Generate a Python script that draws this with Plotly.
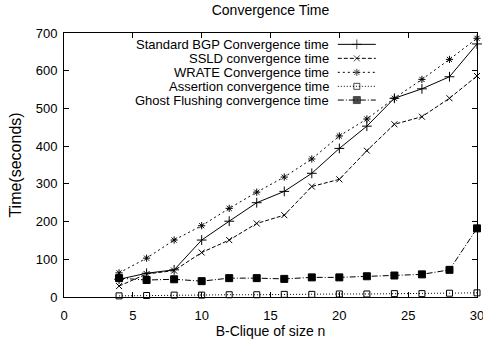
import plotly.graph_objects as go

n_values = [4, 6, 8, 10, 12, 14, 16, 18, 20, 22, 24, 26, 28, 30]
standard_bgp = [47, 63, 72, 151, 201, 250, 280, 328, 394, 453, 527, 552, 584, 671]
ssld = [29, 61, 70, 118, 151, 195, 217, 293, 312, 388, 458, 478, 527, 586]
wrate = [64, 103, 151, 189, 235, 278, 318, 366, 427, 472, 527, 577, 630, 686]
assertion = [3, 4, 5, 5, 6, 6, 7, 7, 8, 8, 9, 9, 10, 11]
ghost = [50, 45, 47, 42, 50, 50, 48, 52, 52, 55, 57, 60, 72, 182]

series_names = [
    "Standard BGP Convergence time",
    "SSLD convergence time",
    "WRATE Convergence time",
    "Assertion convergence time",
    "Ghost Flushing convergence time",
]
series_values = [standard_bgp, ssld, wrate, assertion, ghost]

styles = [
    dict(dash="solid", symbol="cross-thin", size=7),
    dict(dash="4px,2px", symbol="x-thin", size=6),
    dict(dash="2px,3px", symbol="asterisk", size=6),
    dict(dash="1px,2px", symbol="square-open", size=6),
    dict(dash="6px,2px,1px,2px", symbol="square", size=7),
]

fig = go.Figure()
for name, vals, st in zip(series_names, series_values, styles):
    fig.add_trace(go.Scatter(
        x=n_values, y=vals, mode="lines+markers", name=name,
        line=dict(color="black", width=1, dash=st["dash"]),
        marker=dict(color="black", symbol=st["symbol"], size=st["size"],
                    line=dict(color="black", width=1)),
        cliponaxis=False, showlegend=False,
    ))

# custom gnuplot-style legend (text right-aligned, sample on the right)
legend_rows = [0.957, 0.904, 0.851, 0.798, 0.746]
for name, st, yr in zip(series_names, styles, legend_rows):
    fig.add_trace(go.Scatter(
        x=[0.663, 0.709, 0.755], y=[yr, yr, yr], mode="lines+markers",
        xaxis="x2", yaxis="y2", showlegend=False, hoverinfo="skip",
        line=dict(color="black", width=1, dash=st["dash"]),
        marker=dict(color="black", symbol=st["symbol"], size=[0, st["size"], 0],
                    line=dict(color="black", width=1)),
        cliponaxis=False,
    ))
    fig.add_annotation(x=0.646, y=yr, xref="paper", yref="paper", text=name,
                       showarrow=False, xanchor="right", yanchor="middle",
                       font=dict(size=13, color="black"))

axis_common = dict(showline=True, linecolor="black", linewidth=1, mirror="ticks",
                   ticks="inside", ticklen=5, tickcolor="black", showgrid=False,
                   zeroline=False, tickfont=dict(size=13, color="black"),
                   ticklabeloverflow="allow", automargin=False)

fig.update_layout(
    width=483, height=345,
    margin=dict(l=64, r=6, t=33, b=48),
    paper_bgcolor="white", plot_bgcolor="white",
    font=dict(family="Liberation Sans, Arial, sans-serif", size=13, color="black"),
    title=dict(text="Convergence Time", x=0.56, xanchor="center", y=0.971,
               yanchor="middle", font=dict(size=14), automargin=False),
    xaxis=dict(range=[0, 30], tickvals=[0, 5, 10, 15, 20, 25, 30],
               ticklabelstandoff=6,
               title=dict(text="B-Clique of size n", standoff=4, font=dict(size=14)),
               **axis_common),
    yaxis=dict(range=[0, 700], tickvals=[0, 100, 200, 300, 400, 500, 600, 700],
               ticklabelstandoff=3,
               title=dict(text="Time(seconds)", standoff=10, font=dict(size=16)),
               **axis_common),
    xaxis2=dict(range=[0, 1], overlaying="x", visible=False),
    yaxis2=dict(range=[0, 1], overlaying="y", visible=False),
    showlegend=False,
)

fig.write_html("out.html")
